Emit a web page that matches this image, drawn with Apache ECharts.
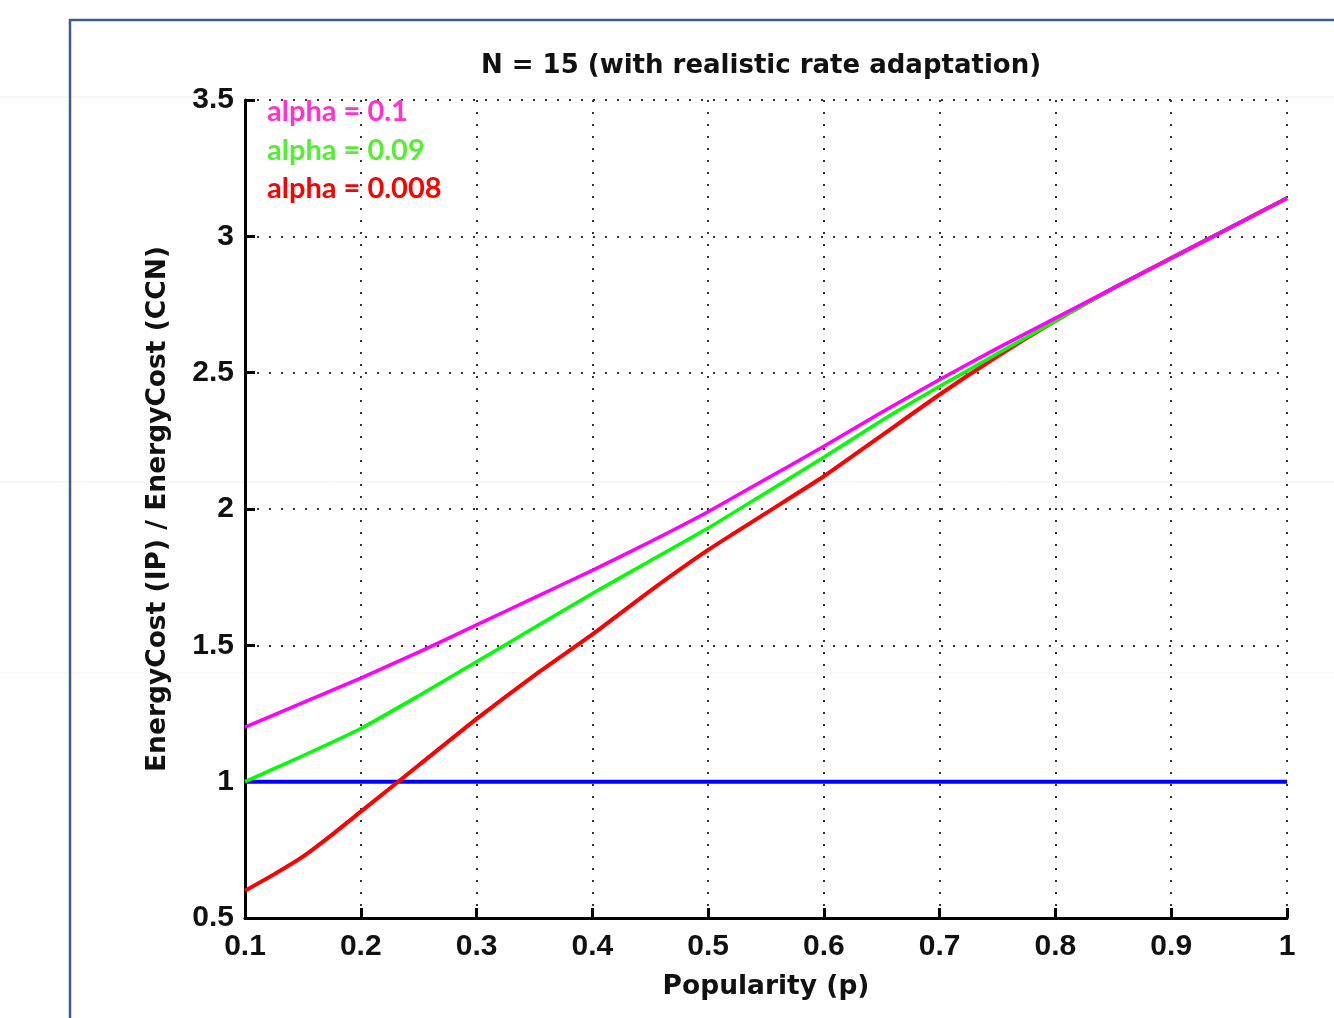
<!DOCTYPE html>
<html>
<head>
<meta charset="utf-8">
<script src="https://cdn.jsdelivr.net/npm/echarts@6/dist/echarts.min.js"></script>
<style>
html,body{margin:0;padding:0;background:#fff;overflow:hidden;}
#main{width:1334px;height:1018px;}
</style>
</head>
<body>
<div id="main"></div>
<script>
const popularity = [0.1, 0.15, 0.2, 0.25, 0.3, 0.35, 0.4, 0.45, 0.5, 0.55, 0.6, 0.65, 0.7, 0.75, 0.8, 0.85, 0.9, 0.95, 1.0];
const alpha01   = [1.20, 1.29, 1.38, 1.475, 1.575, 1.675, 1.775, 1.88, 1.99, 2.11, 2.23, 2.355, 2.475, 2.59, 2.70, 2.81, 2.92, 3.03, 3.14];
const alpha009  = [1.00, 1.095, 1.195, 1.315, 1.44, 1.565, 1.69, 1.81, 1.93, 2.06, 2.19, 2.325, 2.45, 2.57, 2.69, 2.81, 2.92, 3.03, 3.14];
const alpha0008X = [0.1, 0.125, 0.15, 0.175, 0.2, 0.25, 0.3, 0.35, 0.4, 0.45, 0.5, 0.55, 0.6, 0.65, 0.7, 0.75, 0.8, 0.85, 0.9, 0.95, 1.0];
const alpha0008 = [0.60, 0.66, 0.725, 0.805, 0.89, 1.06, 1.23, 1.39, 1.54, 1.70, 1.85, 1.985, 2.12, 2.27, 2.42, 2.56, 2.69, 2.81, 2.92, 3.03, 3.14];
const baselineX = [0.1, 1.0];
const baseline  = [1, 1];
const legendLabels = ['alpha = 0.1', 'alpha = 0.09', 'alpha = 0.008'];
const titleText = 'N = 15 (with realistic rate adaptation)';

const pairs = (xs, ys) => xs.map((x, i) => [x, ys[i]]);
const chart = echarts.init(document.getElementById('main'), null, {renderer: 'canvas', width: 1334, height: 1018});
const tickFont = {fontFamily: 'Liberation Sans', fontWeight: 'bold', fontSize: 30, color: '#111'};
const nameFont = {fontFamily: 'DejaVu Sans', fontWeight: 'bold', fontSize: 26.5, color: '#111'};
const dotted = {type: [2, 10], width: 2, color: '#333'};

chart.setOption({
  animation: false,
  backgroundColor: '#fff',
  grid: {left: 245, right: 47, top: 100, bottom: 100, containLabel: false},
  xAxis: {
    type: 'value', min: 0.1, max: 1, interval: 0.1,
    name: 'Popularity (p)', nameLocation: 'middle', nameGap: 56,
    nameTextStyle: nameFont,
    axisLine: {lineStyle: {color: '#000', width: 3}},
    axisTick: {inside: true, length: 10, lineStyle: {color: '#000', width: 3}},
    axisLabel: Object.assign({margin: 14, formatter: v => String(+v.toFixed(1))}, tickFont),
    splitLine: {show: true, lineStyle: dotted}
  },
  yAxis: {
    type: 'value', min: 0.5, max: 3.5, interval: 0.5,
    name: 'EnergyCost (IP) / EnergyCost (CCN)', nameLocation: 'middle', nameGap: 73, nameRotate: 90,
    nameTextStyle: nameFont,
    axisLine: {show: true, lineStyle: {color: '#000', width: 3}},
    axisTick: {show: true, inside: true, length: 10, lineStyle: {color: '#000', width: 3}},
    axisLabel: Object.assign({margin: 11, formatter: v => String(+v.toFixed(1))}, tickFont),
    splitLine: {show: true, lineStyle: dotted}
  },
  series: [
    {type: 'line', data: pairs(baselineX, baseline), symbol: 'none', lineStyle: {color: '#0000ff', width: 4}, z: 2},
    {type: 'line', data: pairs(alpha0008X, alpha0008), symbol: 'none', smooth: 0.2, lineStyle: {color: '#ff0000', width: 4}, z: 3},
    {type: 'line', data: pairs(popularity, alpha009), symbol: 'none', smooth: 0.2, lineStyle: {color: '#00ff00', width: 3.5}, z: 4},
    {type: 'line', data: pairs(popularity, alpha01), symbol: 'none', smooth: 0.2, lineStyle: {color: '#ff00ff', width: 3.5}, z: 5}
  ],
  graphic: [
    {type: 'line', shape: {x1: 0, y1: 97, x2: 1334, y2: 97}, style: {stroke: '#ecece4', lineWidth: 1}, z: -1},
    {type: 'line', shape: {x1: 0, y1: 482, x2: 1334, y2: 482}, style: {stroke: '#f2f2ee', lineWidth: 1}, z: -1},
    {type: 'line', shape: {x1: 0, y1: 673, x2: 1334, y2: 673}, style: {stroke: '#f2f2ee', lineWidth: 1}, z: -1},
    {type: 'polyline', shape: {points: [[70, 1018], [70, 20], [1334, 20]]}, style: {stroke: '#3a5f8f', lineWidth: 2.5, fill: null}},
    {type: 'text', x: 761, y: 66, style: {text: titleText, textAlign: 'center', textVerticalAlign: 'middle', fontFamily: 'DejaVu Sans', fontWeight: 'bold', fontSize: 26, fill: '#111'}},
    {type: 'text', x: 267, y: 112, z: 10, style: {text: legendLabels[0], textVerticalAlign: 'middle', fontFamily: 'Lato', fontWeight: 'bold', fontSize: 29, fill: '#ff33cc'}},
    {type: 'text', x: 267, y: 151, z: 10, style: {text: legendLabels[1], textVerticalAlign: 'middle', fontFamily: 'Lato', fontWeight: 'bold', fontSize: 29, fill: '#55ee33'}},
    {type: 'text', x: 267, y: 189, z: 10, style: {text: legendLabels[2], textVerticalAlign: 'middle', fontFamily: 'Lato', fontWeight: 'bold', fontSize: 29, fill: '#ff0000'}}
  ]
});
</script>
</body>
</html>
